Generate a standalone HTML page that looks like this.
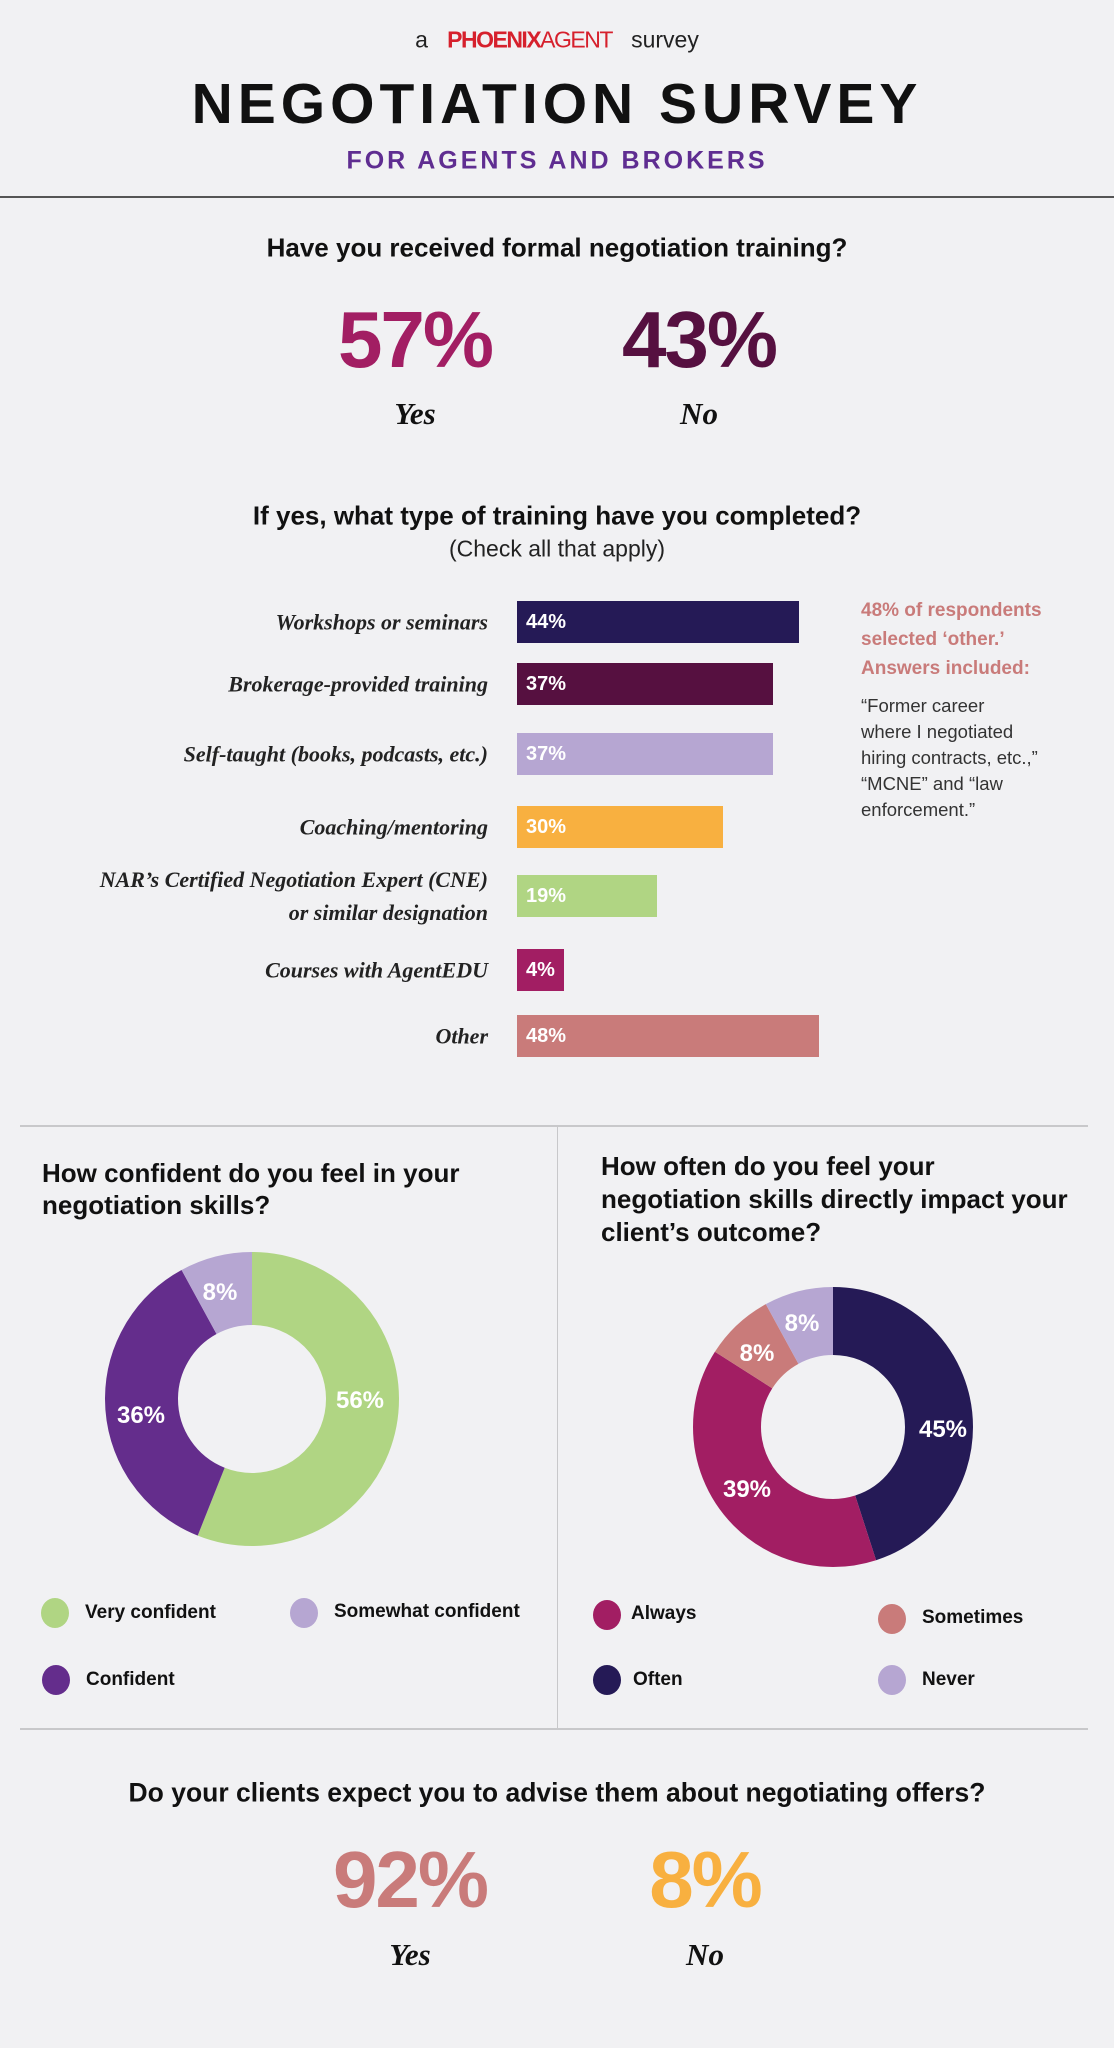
<!DOCTYPE html>
<html><head><meta charset="utf-8"><style>
html,body{margin:0;padding:0}
body{width:1114px;height:2048px;background:#f1f1f3;position:relative;overflow:hidden;font-family:"Liberation Sans",sans-serif;color:#111}
.c{position:absolute;transform:translate(-50%,-50%);white-space:nowrap}
.l{position:absolute;transform:translateY(-50%);white-space:nowrap}
.r{position:absolute;transform:translate(-100%,-50%);white-space:nowrap;text-align:right}
.q{font-weight:bold;font-size:26px}
.big{font-weight:bold;font-size:80px;letter-spacing:-2px}
.yn{font-family:"Liberation Serif",serif;font-style:italic;font-weight:bold;font-size:31px}
.lab{font-family:"Liberation Serif",serif;font-style:italic;font-weight:bold;font-size:22px;line-height:33px;color:#222}
.bar{position:absolute;left:517px;height:42px;color:#fff;font-weight:bold;font-size:20px;line-height:42px;padding-left:9px;box-sizing:border-box}
.dot{position:absolute;width:28px;height:30px;border-radius:50%;transform:translate(-50%,-50%)}
.lg{font-weight:bold;font-size:19px}
.pl{font-weight:bold;font-size:24px;color:#fff}
</style></head><body>
<div class="c" style="left:557px;top:40px;font-size:23px;color:#222">a&nbsp;&nbsp;&nbsp;<span style="color:#d6202c;font-weight:bold;letter-spacing:-1.5px">PHOENIX</span><span style="color:#d6202c;letter-spacing:-1.5px">AGENT</span>&nbsp;&nbsp;&nbsp;survey</div>
<div class="c" style="left:557px;top:104px;font-size:57px;font-weight:bold;letter-spacing:5px">NEGOTIATION SURVEY</div>
<div class="c" style="left:557px;top:161px;font-size:25px;font-weight:bold;letter-spacing:3px;color:#5f2d91">FOR AGENTS AND BROKERS</div>
<div style="position:absolute;left:0;top:196px;width:1114px;height:2px;background:#555"></div>

<div class="c q" style="left:557px;top:248px">Have you received formal negotiation training?</div>
<div class="c big" style="left:415px;top:340px;color:#a21e63">57%</div>
<div class="c big" style="left:699px;top:340px;color:#561040">43%</div>
<div class="c yn" style="left:415px;top:414px">Yes</div>
<div class="c yn" style="left:699px;top:414px">No</div>

<div class="c q" style="left:557px;top:516px">If yes, what type of training have you completed?</div>
<div class="c" style="left:557px;top:549px;font-size:23px;color:#222">(Check all that apply)</div>

<div class="r lab" style="left:488px;top:622px">Workshops or seminars</div>
<div class="r lab" style="left:488px;top:684px">Brokerage-provided training</div>
<div class="r lab" style="left:488px;top:754px">Self-taught (books, podcasts, etc.)</div>
<div class="r lab" style="left:488px;top:827px">Coaching/mentoring</div>
<div class="r lab" style="left:488px;top:896px">NAR’s Certified Negotiation Expert (CNE)<br>or similar designation</div>
<div class="r lab" style="left:488px;top:970px">Courses with AgentEDU</div>
<div class="r lab" style="left:488px;top:1036px">Other</div>

<div class="bar" style="top:601px;width:282px;background:#251a56">44%</div>
<div class="bar" style="top:663px;width:256px;background:#561040">37%</div>
<div class="bar" style="top:733px;width:256px;background:#b6a6d2">37%</div>
<div class="bar" style="top:806px;width:206px;background:#f8b040">30%</div>
<div class="bar" style="top:875px;width:140px;background:#b0d583">19%</div>
<div class="bar" style="top:949px;width:47px;background:#a21e63">4%</div>
<div class="bar" style="top:1015px;width:302px;background:#c97b7a">48%</div>

<div style="position:absolute;left:861px;top:596px;font-weight:bold;font-size:19px;line-height:29px;color:#c97b7a">48% of respondents<br>selected ‘other.’<br>Answers included:</div>
<div style="position:absolute;left:861px;top:693px;font-size:18.5px;line-height:26px;color:#333">“Former career<br>where I negotiated<br>hiring contracts, etc.,”<br>“MCNE” and “law<br>enforcement.”</div>

<div style="position:absolute;left:20px;top:1125px;width:1068px;height:2px;background:#c8c8ca"></div>
<div style="position:absolute;left:557px;top:1127px;width:1px;height:602px;background:#c8c8ca"></div>
<div style="position:absolute;left:20px;top:1728px;width:1068px;height:2px;background:#c8c8ca"></div>

<div class="q" style="position:absolute;left:42px;top:1157px;line-height:32px">How confident do you feel in your<br>negotiation skills?</div>
<div class="q" style="position:absolute;left:601px;top:1150px;line-height:33px">How often do you feel your<br>negotiation skills directly impact your<br>client’s outcome?</div>

<svg style="position:absolute;left:0;top:0" width="1114" height="2048">
<g transform="translate(252 1399) rotate(-90)">
<circle r="110.5" fill="none" stroke="#b0d583" stroke-width="73" stroke-dasharray="388.8 1000"/>
<circle r="110.5" fill="none" stroke="#642d8c" stroke-width="73" stroke-dasharray="0 388.8 250 1000"/>
<circle r="110.5" fill="none" stroke="#b6a6d2" stroke-width="73" stroke-dasharray="0 638.8 55.6 1000"/>
</g>
<g transform="translate(833 1427) rotate(-90)">
<circle r="106" fill="none" stroke="#251a56" stroke-width="68" stroke-dasharray="299.7 1000"/>
<circle r="106" fill="none" stroke="#a21e63" stroke-width="68" stroke-dasharray="0 299.7 259.7 1000"/>
<circle r="106" fill="none" stroke="#c97b7a" stroke-width="68" stroke-dasharray="0 559.4 53.3 1000"/>
<circle r="106" fill="none" stroke="#b6a6d2" stroke-width="68" stroke-dasharray="0 612.7 53.3 1000"/>
</g>
</svg>
<div class="c pl" style="left:360px;top:1401px">56%</div>
<div class="c pl" style="left:141px;top:1416px">36%</div>
<div class="c pl" style="left:220px;top:1293px">8%</div>
<div class="c pl" style="left:943px;top:1430px">45%</div>
<div class="c pl" style="left:747px;top:1490px">39%</div>
<div class="c pl" style="left:757px;top:1354px">8%</div>
<div class="c pl" style="left:802px;top:1324px">8%</div>

<div class="dot" style="left:55px;top:1613px;background:#b0d583"></div>
<div class="l lg" style="left:85px;top:1613px">Very confident</div>
<div class="dot" style="left:304px;top:1613px;background:#b6a6d2"></div>
<div class="l lg" style="left:334px;top:1612px">Somewhat confident</div>
<div class="dot" style="left:56px;top:1680px;background:#642d8c"></div>
<div class="l lg" style="left:86px;top:1680px">Confident</div>
<div class="dot" style="left:607px;top:1615px;background:#a21e63"></div>
<div class="l lg" style="left:631px;top:1614px">Always</div>
<div class="dot" style="left:892px;top:1619px;background:#c97b7a"></div>
<div class="l lg" style="left:922px;top:1618px">Sometimes</div>
<div class="dot" style="left:607px;top:1680px;background:#251a56"></div>
<div class="l lg" style="left:633px;top:1680px">Often</div>
<div class="dot" style="left:892px;top:1680px;background:#b6a6d2"></div>
<div class="l lg" style="left:922px;top:1680px">Never</div>

<div class="c q" style="left:557px;top:1793px;font-size:26.5px">Do your clients expect you to advise them about negotiating offers?</div>
<div class="c big" style="left:410px;top:1880px;color:#c97b7a">92%</div>
<div class="c big" style="left:705px;top:1880px;color:#f8b040">8%</div>
<div class="c yn" style="left:410px;top:1955px">Yes</div>
<div class="c yn" style="left:705px;top:1955px">No</div>
</body></html>
